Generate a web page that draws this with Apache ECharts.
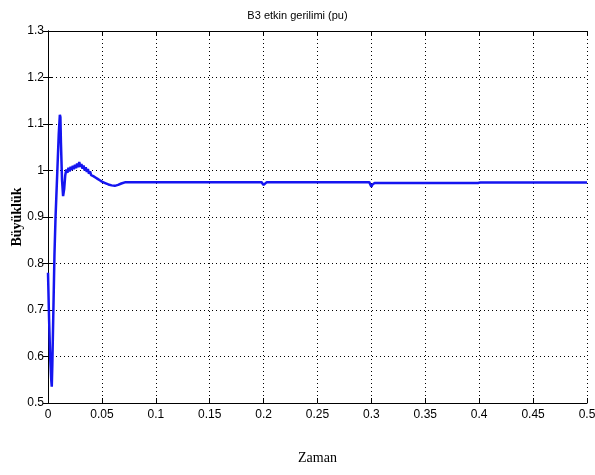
<!DOCTYPE html>
<html>
<head>
<meta charset="utf-8">
<script src="https://cdn.jsdelivr.net/npm/echarts@6/dist/echarts.min.js"></script>
<style>
html,body{margin:0;padding:0;background:#fff;}
#chart{width:595px;height:475px;}
</style>
</head>
<body>
<div id="chart"></div>
<script>
// zaman (s) ve B3 etkin gerilimi (pu), resimden okunan noktalar
var zaman = [
 0, 0.001, 0.002, 0.003, 0.0035, 0.004, 0.005, 0.006, 0.007, 0.008, 0.009, 0.010, 0.011, 0.0115, 0.012, 0.013, 0.014,
 0.015, 0.016, 0.017, 0.018, 0.019, 0.020, 0.021, 0.022, 0.023, 0.024, 0.025, 0.026, 0.027, 0.028, 0.029, 0.030,
 0.031, 0.032, 0.033, 0.034, 0.035, 0.036, 0.037, 0.038, 0.039, 0.040, 0.042, 0.044, 0.046, 0.048, 0.050,
 0.053, 0.056, 0.059, 0.062, 0.065, 0.068, 0.072, 0.080, 0.099, 0.100, 0.101, 0.150,
 0.198, 0.199, 0.200, 0.201, 0.203, 0.250, 0.298, 0.299, 0.300, 0.301, 0.303, 0.350, 0.399, 0.400, 0.401, 0.450, 0.500
];
var gerilim = [
 0.78, 0.68, 0.60, 0.55, 0.535, 0.58, 0.70, 0.82, 0.90, 0.96, 1.02, 1.08, 1.12, 1.115, 1.06, 0.98, 0.945,
 0.96, 0.99, 1.002, 0.995, 1.006, 0.998, 1.008, 1.001, 1.010, 1.003, 1.012, 1.005, 1.015, 1.007, 1.018, 1.008,
 1.014, 1.004, 1.011, 1.000, 1.007, 0.997, 1.003, 0.993, 0.998, 0.990, 0.988, 0.985, 0.982, 0.979, 0.976,
 0.973, 0.970, 0.968, 0.967, 0.969, 0.972, 0.975, 0.975, 0.975, 0.977, 0.975, 0.975,
 0.975, 0.975, 0.969, 0.973, 0.975, 0.975, 0.975, 0.975, 0.965, 0.970, 0.973, 0.973, 0.973, 0.976, 0.974, 0.974, 0.974
];
var xTicks = [0, 0.05, 0.1, 0.15, 0.2, 0.25, 0.3, 0.35, 0.4, 0.45, 0.5];
var yTicks = [0.5, 0.6, 0.7, 0.8, 0.9, 1, 1.1, 1.2, 1.3];

var seri = [];
for (var i = 0; i < zaman.length; i++) {
  seri.push([zaman[i], gerilim[i]]);
}

var tickFont = {fontFamily: '"Liberation Sans Narrow", "Liberation Sans", Arial, sans-serif', fontSize: 12, color: '#000'};
var myChart = echarts.init(document.getElementById('chart'));
var option = {
  animation: false,
  backgroundColor: '#fff',
  title: {
    text: 'B3 etkin gerilimi (pu)',
    left: 'center',
    top: 5,
    textStyle: {fontFamily: '"Liberation Sans Narrow", Arial, sans-serif', fontSize: 11, fontWeight: 'normal', color: '#000'}
  },
  grid: {left: 48, right: 8, top: 31, bottom: 72, containLabel: false, outerBoundsMode: 'none'},
  xAxis: [{
    type: 'value', min: 0, max: 0.5, interval: 0.05,
    name: 'Zaman', nameLocation: 'middle', nameGap: 48,
    nameTextStyle: {fontFamily: '"Liberation Serif", "DejaVu Serif", serif', fontSize: 14, color: '#000'},
    axisLine: {show: true, lineStyle: {color: '#000', width: 1}},
    axisTick: {inside: true, length: 5, lineStyle: {color: '#000'}},
    axisLabel: Object.assign({margin: 6, formatter: function (v) { return String(+v.toFixed(2)); }}, tickFont),
    splitLine: {show: true, lineStyle: {color: '#000', type: [1, 3], width: 1}}
  }, {
    type: 'value', position: 'top', min: 0, max: 0.5, interval: 0.05,
    axisLine: {show: true, lineStyle: {color: '#000', width: 1}},
    axisTick: {inside: true, length: 5, lineStyle: {color: '#000'}},
    axisLabel: {show: false}, splitLine: {show: false}
  }],
  yAxis: [{
    type: 'value', min: 0.5, max: 1.3, interval: 0.1,
    name: 'Büyüklük', nameLocation: 'middle', nameGap: 24, nameMoveOverlap: false,
    nameTextStyle: {fontFamily: '"Liberation Serif", "DejaVu Serif", serif', fontSize: 14, fontWeight: 'bold', color: '#000'},
    axisLine: {show: true, lineStyle: {color: '#000', width: 1}},
    axisTick: {inside: true, length: 5, lineStyle: {color: '#000'}},
    axisLabel: Object.assign({margin: 4, formatter: function (v) { return String(+v.toFixed(1)); }}, tickFont),
    splitLine: {show: true, lineStyle: {color: '#000', type: [1, 3], width: 1}}
  }, {
    type: 'value', position: 'right', min: 0.5, max: 1.3, interval: 0.1,
    axisLine: {show: true, lineStyle: {color: '#000', width: 1}},
    axisTick: {inside: true, length: 5, lineStyle: {color: '#000'}},
    axisLabel: {show: false}, splitLine: {show: false}
  }],
  series: [{
    type: 'line',
    data: seri,
    xAxisIndex: 0, yAxisIndex: 0,
    showSymbol: false,
    lineStyle: {color: '#1515f0', width: 2.5},
    z: 5
  }]
};
myChart.setOption(option);
</script>
</body>
</html>
